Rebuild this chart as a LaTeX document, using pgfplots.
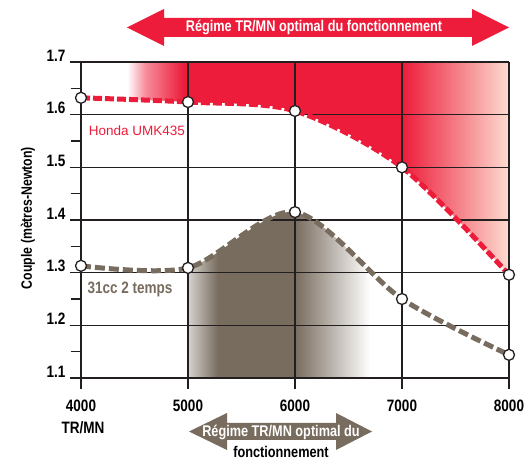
\documentclass[border=0pt]{standalone}
\usepackage{pgfplots}
\pgfplotsset{compat=1.18}
\usepackage{fontspec}
\setmainfont{Liberation Sans}
\newfontfamily\cond[FakeStretch=0.82]{Liberation Sans}

\definecolor{hred}{RGB}{237,28,58}
\definecolor{ccgray}{RGB}{120,108,94}
\definecolor{gridc}{RGB}{35,31,32}
\definecolor{pinkend}{RGB}{252,220,208}

% shadings span x = 4000..8000, which maps to 25bp..75bp
\pgfdeclarehorizontalshading{redfade}{100bp}{color(0bp)=(white); color(30.4bp)=(white);
  color(32.5bp)=(hred!50); color(37bp)=(hred); color(62.5bp)=(hred); color(75bp)=(pinkend); color(100bp)=(pinkend)}
\pgfdeclarehorizontalshading{grayfade}{100bp}{color(0bp)=(white); color(37.4bp)=(white);
  color(37.5bp)=(ccgray!30); color(41bp)=(ccgray); color(50bp)=(ccgray); color(58.75bp)=(white); color(100bp)=(white)}

\newcommand{\lab}{\cond\bfseries\fontsize{15.5}{15.5}\selectfont}
\newcommand{\tlab}{\cond\bfseries\fontsize{16.5}{16.5}\selectfont}

\begin{document}
\begin{tikzpicture}[x=1pt,y=1pt]
\begin{axis}[
    name=ax, at={(0,0)}, anchor=south west,
    scale only axis, width=428pt, height=316pt,
    xmin=4000, xmax=8000, ymin=1.1, ymax=1.7,
    axis lines*=left,
    xtick={4000,5000,6000,7000,8000},
    ytick={1.1,1.2,1.3,1.4,1.5,1.6,1.7},
    minor y tick num=1,
    grid=major,
    major grid style={gridc, line width=1.4pt},
    tick align=outside,
    major tick length=11pt, minor tick length=10pt,
    every tick/.style={gridc, line width=1.4pt},
    axis line style={gridc, line width=1.4pt},
    /pgf/number format/assume math mode=true,
    ticklabel style={font=\tlab},
    xticklabel style={/pgf/number format/1000 sep={}, anchor=north, yshift=-7pt},
    yticklabel style={/pgf/number format/fixed, /pgf/number format/fixed zerofill,
      /pgf/number format/precision=1, anchor=south east, xshift=-1pt, yshift=-3pt},
    set layers, clip=false,
  ]

% background areas
\addplot[shading=redfade, draw=none, on layer=axis background, forget plot]
  coordinates {(4000,1.7) (8000,1.7)} \closedcycle;
\addplot[fill=white, draw=none, smooth, on layer=axis background, forget plot]
  coordinates {(4000,1.632) (5000,1.624) (6000,1.607) (7000,1.500) (8000,1.296)} \closedcycle;
\addplot[shading=grayfade, draw=none, smooth, on layer=axis background, forget plot]
  coordinates {(4000,1.313) (5000,1.309) (6000,1.415) (7000,1.250) (8000,1.144)} \closedcycle;

% Honda UMK435
\addplot[hred, line width=5pt, dash pattern=on 9pt off 3pt, smooth,
  mark=*, mark size=5.5pt, mark options={solid, fill=white, draw=gridc, line width=1.3pt}]
  coordinates {(4000,1.632) (5000,1.624) (6000,1.607) (7000,1.500) (8000,1.296)};

% 31cc 2 temps
\addplot[ccgray, line width=5pt, dash pattern=on 10pt off 4pt, smooth,
  mark=*, mark size=5.5pt, mark options={solid, fill=white, draw=gridc, line width=1.3pt}]
  coordinates {(4000,1.313) (5000,1.309) (6000,1.415) (7000,1.250) (8000,1.144)};
\end{axis}

% everything else in image pixels (origin bottom-left), axis corner at (81,84)
\begin{scope}[shift={(ax.south west)}, shift={(-81,-84)}]
\node[font=\cond\bfseries\fontsize{15}{15}\selectfont, rotate=90] at (28,244) {Couple (mètres-Newton)};
\node[font=\tlab] at (83,34) {TR/MN};
\node[font=\fontsize{13.5}{13.5}\selectfont, text=hred] at (137,331) {Honda UMK435};
\node[font=\tlab, text=ccgray] at (130,173) {31cc 2 temps};

% top arrow
\fill[hred] (127,434.5) -- (164,453) -- (164,444) -- (472,444) -- (472,453) -- (509,434.5)
  -- (472,416) -- (472,425) -- (164,425) -- (164,416) -- cycle;
\node[font=\lab, text=white] at (314,434.5) {Régime TR/MN optimal du fonctionnement};

% bottom arrow
\fill[ccgray] (189,30.5) -- (227,49) -- (227,39) -- (336,39) -- (336,49) -- (372,30.5)
  -- (336,12) -- (336,22) -- (227,22) -- (227,12) -- cycle;
\node[font=\lab, text=white] at (281,30) {Régime TR/MN optimal du};
\node[font=\lab] at (281,10) {fonctionnement};
\end{scope}

\pgfresetboundingbox
\path[use as bounding box, shift={(ax.south west)}] (-81,-84) rectangle (444,378);
\end{tikzpicture}
\end{document}
